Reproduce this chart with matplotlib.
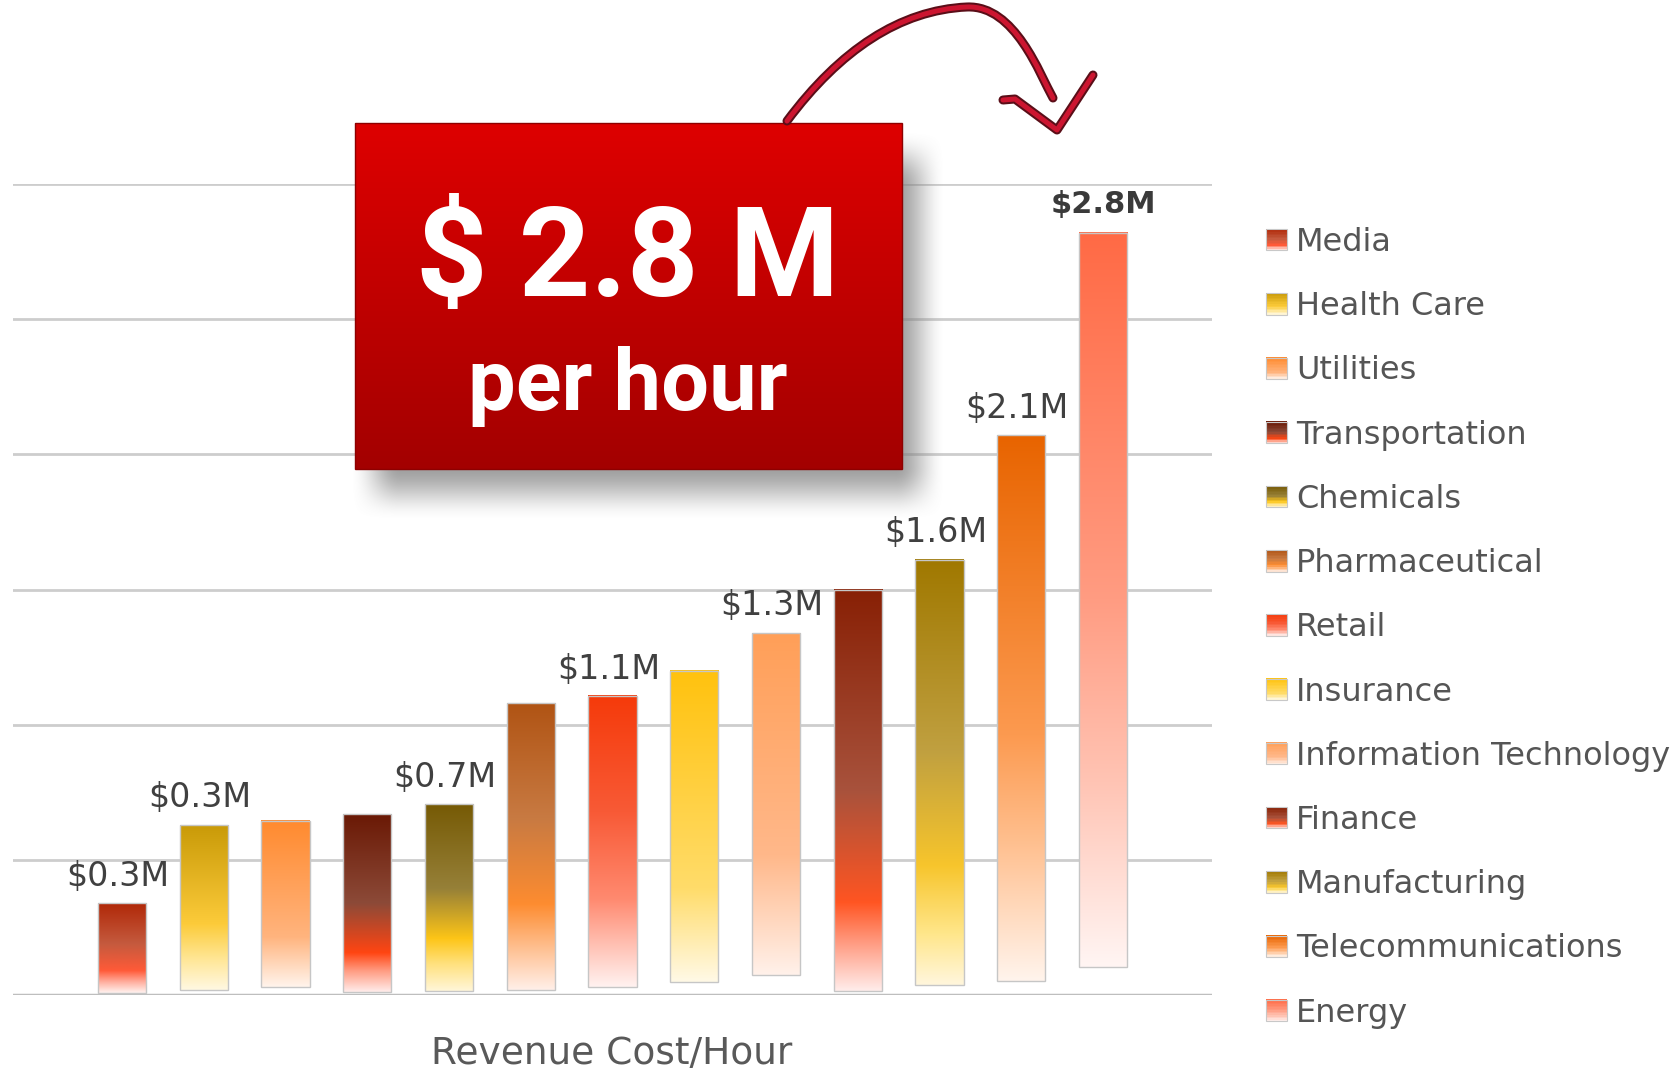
import numpy as np
import matplotlib
matplotlib.use("Agg")
import matplotlib.pyplot as plt
from matplotlib.colors import LinearSegmentedColormap, to_rgb
from matplotlib.patches import Rectangle, Patch
from matplotlib.path import Path
from matplotlib.patches import PathPatch
from matplotlib.legend_handler import HandlerBase
import matplotlib.patheffects as pe

# data (millions of $ per hour)
industries = ['Media', 'Health Care', 'Utilities', 'Transportation', 'Chemicals',
              'Pharmaceutical', 'Retail', 'Insurance', 'Information Technology',
              'Finance', 'Manufacturing', 'Telecommunications', 'Energy']
bar_top = [0.34, 0.63, 0.645, 0.67, 0.705, 1.08, 1.105, 1.20, 1.34, 1.50, 1.61, 2.07, 2.82]
bar_base = [0.008, 0.02, 0.028, 0.012, 0.016, 0.02, 0.028, 0.048, 0.075, 0.016, 0.036, 0.051, 0.103]
value_labels = ['$0.3M', '$0.3M', '', '', '$0.7M', '', '$1.1M', '', '$1.3M', '', '$1.6M', '$2.1M', '$2.8M']
grid_ticks = [0.0, 0.5, 1.0, 1.5, 2.0, 2.5, 3.0]
xlabel = 'Revenue Cost/Hour'
box_value = '$ 2.8 M'
box_unit = 'per hour'

# gradient stops, bottom (0) -> top (1)
grads = [
  [(0, '#FFF3F0'), (0.12, '#FFB0A0'), (0.25, '#FF5A38'), (0.55, '#C45A3E'), (1, '#B02808')],
  [(0, '#FFF8E2'), (0.2, '#FFE590'), (0.4, '#FCCB3A'), (1, '#C99A08')],
  [(0, '#FFF4EC'), (0.3, '#FFB47E'), (1, '#FF8A2E')],
  [(0, '#FFECEA'), (0.12, '#FF9A80'), (0.22, '#FF4512'), (0.5, '#8C4A38'), (1, '#6A1905')],
  [(0, '#FFF6D8'), (0.15, '#FFE07A'), (0.28, '#FDC517'), (0.55, '#968038'), (1, '#765A05')],
  [(0, '#FFEFE8'), (0.12, '#FFC8A0'), (0.3, '#FD8C30'), (0.6, '#C87A42'), (1, '#B05414')],
  [(0, '#FFF2F0'), (0.3, '#FF8A70'), (0.6, '#F85A36'), (1, '#F53A0A')],
  [(0, '#FFF9E6'), (0.3, '#FFDC6A'), (1, '#FFC20E')],
  [(0, '#FFF1EA'), (0.35, '#FFB88A'), (1, '#FF9F58')],
  [(0, '#FFECEA'), (0.12, '#FF9A80'), (0.22, '#FF5522'), (0.5, '#A8523C'), (1, '#882005')],
  [(0, '#FFF6DC'), (0.12, '#FFE68A'), (0.28, '#F7C52C'), (0.55, '#C0A040'), (1, '#A07800')],
  [(0, '#FFF4EC'), (0.25, '#FFC090'), (0.45, '#FC9A50'), (1, '#E86400')],
  [(0, '#FFF5F3'), (0.25, '#FFC4B4'), (0.5, '#FF9C82'), (1, '#FF6A45')],
]
cmaps = [LinearSegmentedColormap.from_list('g%d' % i, g) for i, g in enumerate(grads)]

W, H = 1678, 1075
fig = plt.figure(figsize=(W / 100, H / 100), dpi=100)
fig.patch.set_facecolor('white')

# main axes: x from 13 to 1212 px, y=0 at 995 px, y=3 at 184 px
ax = fig.add_axes([13 / W, (H - 995) / H, 1199 / W, 811 / H])
ax.patch.set_alpha(0)
ax.axis('off')

for g in grid_ticks:
  if g == 0:
    ax.axhline(g, color='#BEBEBE', lw=2.5, zorder=1)
  else:
    ax.axhline(g, color='#CDCDCD', lw=2, zorder=1)

x = np.arange(len(industries))
bw = 0.59
heights = np.array(bar_top) - np.array(bar_base)
bars = ax.bar(x, heights, bottom=bar_base, width=bw, color='none',
              edgecolor='#C6C6C6', lw=1, zorder=3)
ramp = np.linspace(0, 1, 256).reshape(-1, 1)
for i, b in enumerate(bars):
  ax.imshow(ramp, cmap=cmaps[i], origin='lower', aspect='auto', zorder=2,
            extent=[b.get_x(), b.get_x() + bw, bar_base[i], bar_top[i]],
            interpolation='bilinear')

for i, lab in enumerate(value_labels):
  if lab == '':
    continue
  if i == len(value_labels) - 1:
    ax.text(x[i], bar_top[i] + 0.105, lab, ha='center', va='center',
            fontsize=22, color='#3A3A3A', fontweight='bold', zorder=4)
  else:
    ax.text(x[i] - 0.05, bar_top[i] + 0.1, lab, ha='center', va='center',
            fontsize=24, color='#404040', zorder=4)

ax.set_xlim(-1.333, 13.333)
ax.set_ylim(0, 3.0)

fig.text(612 / W, 1 - 1054 / H, xlabel, ha='center', va='center',
         fontsize=27, color='#595959')


# legend with small gradient swatches
class GradHandler(HandlerBase):
  def __init__(self, cmap):
    HandlerBase.__init__(self)
    self.cmap = cmap

  def create_artists(self, legend, orig_handle, xdescent, ydescent, width, height, fontsize, trans):
    arts = []
    n = 14
    for k in range(n):
      r = Rectangle((-xdescent, -ydescent + height * k / n), width, height / n + 0.3,
                    facecolor=self.cmap((k + 0.5) / n), edgecolor='none', transform=trans)
      arts.append(r)
    arts.append(Rectangle((-xdescent, -ydescent), width, height, facecolor='none',
                          edgecolor='#C8C8C8', lw=0.8, transform=trans))
    return arts


handles = [Patch(label=n) for n in industries]
hmap = {h: GradHandler(cmaps[i]) for i, h in enumerate(handles)}
fig.legend(handles=handles, labels=industries, handler_map=hmap, loc='upper left',
           bbox_to_anchor=(1266 / W, 1 - 227 / H), frameon=False, borderpad=0,
           borderaxespad=0, fontsize=23, labelspacing=1.04, handlelength=0.65,
           handleheight=0.65, handletextpad=0.3, labelcolor='#555555')

# overlay in pixel coordinates for the call-out box and arrow
ov = fig.add_axes([0, 0, 1, 1], zorder=5)
ov.set_xlim(0, W)
ov.set_ylim(H, 0)
ov.axis('off')
ov.patch.set_alpha(0)

# soft shadow below/right of the box
sx0, sx1, sy0, sy1 = 330, 960, 120, 530
xs = np.arange(sx0, sx1)
ys = np.arange(sy0, sy1)
def soft(v, lo, hi, blur):
  a = np.clip((v - lo) / blur, 0, 1)
  b = np.clip((hi - v) / blur, 0, 1)
  a = a * a * (3 - 2 * a)
  b = b * b * (3 - 2 * b)
  return a * b
ax_s = soft(xs, 350, 945, 50)
ay_s = soft(ys, 130, 520, 55)
shadow = np.zeros((len(ys), len(xs), 4))
shadow[..., :3] = 0.5
shadow[..., 3] = np.outer(ay_s, ax_s) * 0.75
ov.imshow(shadow, extent=[sx0, sx1, sy1, sy0], origin='upper', aspect='auto',
          zorder=1, interpolation='bilinear')

# red box with vertical gradient
c_top = np.array(to_rgb('#DE0000'))
c_bot = np.array(to_rgb('#A30000'))
t = np.linspace(0, 1, 200).reshape(-1, 1, 1)
box_img = c_top * (1 - t) + c_bot * t
ov.imshow(box_img, extent=[355, 902, 469, 123], origin='upper', aspect='auto',
          zorder=2, interpolation='bilinear')
ov.add_patch(Rectangle((355, 123), 547, 346, facecolor='none', edgecolor='#8E0000',
                       lw=1, zorder=3))
ov.text(628, 296, box_value, ha='center', va='baseline', fontsize=90,
        fontweight='bold', family='Roboto', color='white', zorder=4)
ov.text(628, 410, box_unit, ha='center', va='baseline', fontsize=61,
        fontweight='bold', family='Roboto', color='white', zorder=4)

# hand drawn arrow
verts = [(787, 121), (840, 50), (900, 10), (967, 7),
         (1015, 5), (1040, 75), (1053, 98)]
codes = [Path.MOVETO, Path.CURVE4, Path.CURVE4, Path.CURVE4,
         Path.CURVE4, Path.CURVE4, Path.CURVE4]
stroke = [pe.withStroke(linewidth=6.5, foreground='#5A0E18')]
arc = PathPatch(Path(verts, codes), facecolor='none', edgecolor='#CC1530', lw=3.6,
                capstyle='round', joinstyle='round', zorder=6)
arc.set_path_effects(stroke)
ov.add_patch(arc)
head_x = [1003, 1015, 1057, 1093]
head_y = [100, 99, 130, 75]
ov.plot(head_x, head_y, color='#CC1530', lw=3.6, solid_capstyle='round',
        solid_joinstyle='round', zorder=6, path_effects=stroke)

plt.savefig('out.png', dpi=100)
